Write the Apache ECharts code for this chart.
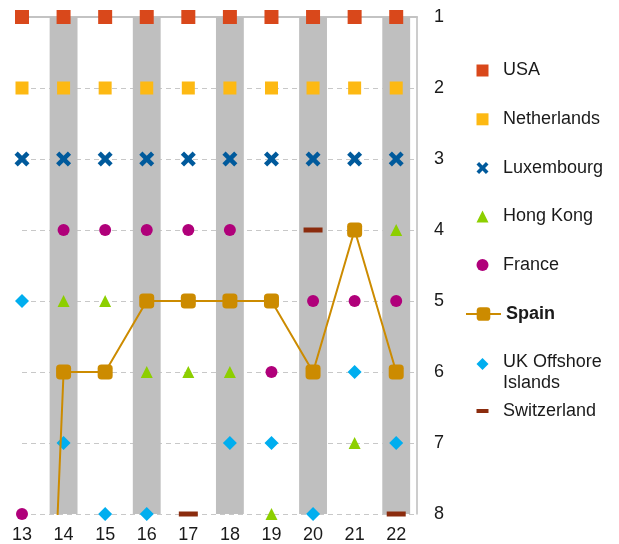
<!DOCTYPE html>
<html>
<head>
<meta charset="utf-8">
<script src="https://cdn.jsdelivr.net/npm/echarts@6/dist/echarts.min.js"></script>
<style>html,body{margin:0;padding:0;background:#fff}#c{width:619px;height:544px}</style>
</head>
<body>
<div id="c"></div>
<script>
// ---- data ----
const categories = [13, 14, 15, 16, 17, 18, 19, 20, 21, 22];
const usa         = [1, 1, 1, 1, 1, 1, 1, 1, 1, 1];
const netherlands = [2, 2, 2, 2, 2, 2, 2, 2, 2, 2];
const luxembourg  = [3, 3, 3, 3, 3, 3, 3, 3, 3, 3];
const hongKong    = [null, 5, 5, 6, 6, 6, 8, null, 7, 4];
const france      = [8, 4, 4, 4, 4, 4, 6, 5, 5, 5];
const spain       = [20, 6, 6, 5, 5, 5, 5, 6, 4, 6];
const ukOffshore  = [5, 7, 8, 8, null, 7, 7, 8, 6, 7];
const switzerland = [null, null, null, null, 8, null, null, 4, null, 8];
const rankTicks   = [1, 2, 3, 4, 5, 6, 7, 8];
const shadedCategories = [14, 16, 18, 20, 22];

// ---- helpers ----
const FONT = 'Liberation Sans, Arial, sans-serif';
const pairs = arr => categories.map((c, i) => arr[i] == null ? null : [c, arr[i]]).filter(Boolean);
const X_PATH = 'path://M0,3 L3,0 L7,4 L11,0 L14,3 L10,7 L14,11 L11,14 L7,10 L3,14 L0,11 L4,7 Z';

const scatterDefs = [
  { name: 'USA', data: usa, color: '#D9481B', symbol: 'rect', size: 14 },
  { name: 'Netherlands', data: netherlands, color: '#FDB913', symbol: 'rect', size: 13 },
  { name: 'Luxembourg', data: luxembourg, color: '#005A9C', symbol: X_PATH, size: 15 },
  { name: 'Hong Kong', data: hongKong, color: '#8DCF00', symbol: 'triangle', size: 12 },
  { name: 'France', data: france, color: '#B0007A', symbol: 'circle', size: 12 },
  { name: 'UK Offshore Islands', data: ukOffshore, color: '#00AEEF', symbol: 'diamond', size: 14 },
  { name: 'Switzerland', data: switzerland, color: '#8B2C0E', symbol: 'rect', size: [19, 5] }
];

const series = [];
series.push({
  name: 'bands', type: 'scatter', data: [], silent: true,
  markArea: {
    silent: true,
    itemStyle: { color: '#BFBFBF' },
    data: shadedCategories.map(c => [{ xAxis: c - 0.335 }, { xAxis: c + 0.335 }])
  }
});
scatterDefs.forEach(d => {
  series.push({
    name: d.name, type: 'scatter', data: pairs(d.data), clip: false,
    symbol: d.symbol, symbolSize: d.size,
    itemStyle: { color: d.color, opacity: 1 }, z: 3
  });
});
series.push({
  name: 'Spain', type: 'line', data: pairs(spain), clip: true,
  symbol: 'roundRect', symbolSize: 15, showAllSymbol: true,
  itemStyle: { color: '#CC8B00' },
  lineStyle: { color: '#CC8B00', width: 2 }, z: 4
});

// legends (one per row)
const legendRows = [
  { name: 'USA', top: 69.5 },
  { name: 'Netherlands', top: 118.3 },
  { name: 'Luxembourg', top: 167 },
  { name: 'Hong Kong', top: 215.5 },
  { name: 'France', top: 264 },
  { name: 'Spain', top: 313, line: true },
  { name: 'UK Offshore Islands', top: 363, twoLine: true },
  { name: 'Switzerland', top: 410, dash: true }
];
const legends = legendRows.map(r => {
  const iw = r.line ? 35 : 12;
  const ih = r.line ? 17 : (r.dash ? 4 : 12);
  const base = {
    data: [r.name], orient: 'vertical', selectedMode: false, padding: 0,
    itemWidth: iw, itemHeight: ih,
    left: 482.5 - iw / 2,
    textStyle: { fontFamily: FONT, fontSize: 18, color: '#1a1a1a',
      fontWeight: r.line ? 'bold' : 'normal',
      padding: r.line ? [0, 0, 0, 0] : [0, 0, 0, 9.5] }
  };
  if (r.twoLine) {
    base.formatter = () => '{e| }\n{a|UK Offshore}\n{a|Islands}';
    base.textStyle.rich = {
      e: { fontFamily: FONT, fontSize: 10, lineHeight: 17, color: '#1a1a1a' },
      a: { fontFamily: FONT, fontSize: 18, lineHeight: 21, color: '#1a1a1a' }
    };
    base.top = r.top - 25;
  } else {
    base.top = r.top - 8;
  }
  return base;
});

const option = {
  animation: false,
  grid: { left: 22, right: 202, top: 17, bottom: 30 },
  legend: legends,
  xAxis: [{
    type: 'value', min: 13, max: 22.5, interval: 1, position: 'bottom',
    axisLine: { show: false }, axisTick: { show: false }, splitLine: { show: false },
    axisLabel: { fontFamily: FONT, fontSize: 18, color: '#1a1a1a', margin: 12,
      formatter: v => categories.includes(v) ? String(v) : '' }
  }, {
    type: 'value', min: 13, max: 22.5, position: 'top',
    axisLine: { show: true, lineStyle: { color: '#C3C3C3', width: 2 } },
    axisTick: { show: false }, axisLabel: { show: false }, splitLine: { show: false }
  }],
  yAxis: {
    type: 'value', position: 'right', inverse: true,
    min: rankTicks[0], max: rankTicks[rankTicks.length - 1], interval: 1,
    axisLine: { show: true, lineStyle: { color: '#BDBDBD', width: 1.5 } },
    axisTick: { show: false },
    axisLabel: { fontFamily: FONT, fontSize: 18, color: '#1a1a1a', margin: 17,
      formatter: v => rankTicks.includes(v) ? String(v) : '' },
    splitLine: { show: true, lineStyle: { color: '#C8C8C8', width: 1, type: [5, 4] } }
  },
  series: series
};

const chart = echarts.init(document.getElementById('c'), null, { renderer: 'canvas' });
chart.setOption(option);
</script>
</body>
</html>
